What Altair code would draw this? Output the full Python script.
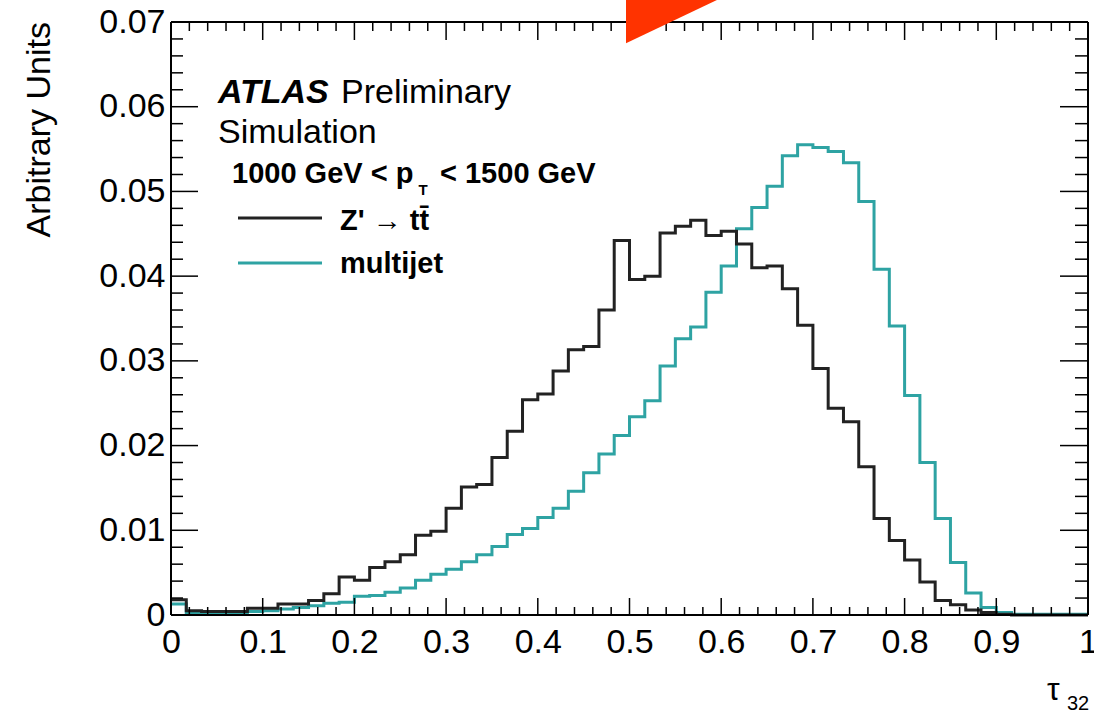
import altair as alt
import pandas as pd

N_BINS = 60

zprime = [0.0018, 0.0005, 0.0004, 0.0004, 0.0004, 0.0008, 0.0008, 0.0013, 0.0013, 0.0017,
          0.0025, 0.0045, 0.0041, 0.0056, 0.0063, 0.0071, 0.0094, 0.0099, 0.0126, 0.0151,
          0.0154, 0.0186, 0.0217, 0.0254, 0.0261, 0.0288, 0.0313, 0.0317, 0.0360, 0.0442,
          0.0396, 0.0400, 0.0451, 0.0459, 0.0466, 0.0448, 0.0453, 0.0438, 0.0410, 0.0412,
          0.0385, 0.0342, 0.0291, 0.0244, 0.0228, 0.0175, 0.0114, 0.0088, 0.0065, 0.0039,
          0.0017, 0.0012, 0.0006, 0.0003, 0.0001, 0.0, 0.0, 0.0, 0.0, 0.0]

multijet = [0.0013, 0.0003, 0.0002, 0.0002, 0.0002, 0.0004, 0.0005, 0.0007, 0.0009, 0.0011,
            0.0014, 0.0015, 0.0022, 0.0023, 0.0027, 0.0032, 0.0041, 0.0048, 0.0054, 0.0063,
            0.0071, 0.0081, 0.0095, 0.0102, 0.0115, 0.0126, 0.0146, 0.0168, 0.0190, 0.0212,
            0.0234, 0.0253, 0.0294, 0.0326, 0.0340, 0.0381, 0.0412, 0.0456, 0.0481, 0.0506,
            0.0542, 0.0555, 0.0552, 0.0547, 0.0534, 0.0488, 0.0408, 0.0341, 0.0259, 0.0180,
            0.0114, 0.0062, 0.0026, 0.0009, 0.0003, 0.0001, 0.0001, 0.0001, 0.0001, 0.0001]

x_major = [0, 0.1, 0.2, 0.3, 0.4, 0.5, 0.6, 0.7, 0.8, 0.9, 1.0]
x_minor = [0.02, 0.04, 0.06, 0.08, 0.12, 0.14, 0.16, 0.18, 0.22, 0.24, 0.26, 0.28,
           0.32, 0.34, 0.36, 0.38, 0.42, 0.44, 0.46, 0.48, 0.52, 0.54, 0.56, 0.58,
           0.62, 0.64, 0.66, 0.68, 0.72, 0.74, 0.76, 0.78, 0.82, 0.84, 0.86, 0.88,
           0.92, 0.94, 0.96, 0.98]
y_major = [0, 0.01, 0.02, 0.03, 0.04, 0.05, 0.06, 0.07]
y_minor = [0.002, 0.004, 0.006, 0.008, 0.012, 0.014, 0.016, 0.018, 0.022, 0.024, 0.026, 0.028,
           0.032, 0.034, 0.036, 0.038, 0.042, 0.044, 0.046, 0.048, 0.052, 0.054, 0.056, 0.058,
           0.062, 0.064, 0.066, 0.068]

# red arrow tip overlay (data coords)
arrow_x = [0.4962, 0.5954]
arrow_lo = [0.0675, 0.0726]
arrow_hi = [0.0726, 0.0726]

W, H = 917, 593
FONT = "Liberation Sans"
BLACK = "#222222"
TEAL = "#2ea3a3"

edges = [i / N_BINS for i in range(N_BINS + 1)]

xs = alt.Scale(domain=[0, 1], nice=False, zero=False)
ys = alt.Scale(domain=[0, 0.07], nice=False, zero=False)

def step_df(vals):
    return pd.DataFrame({"x": edges, "y": vals + [vals[-1]]})

base_axis = dict(grid=False, ticks=False, tickSize=0, domain=False, format="~g",
                 labelFont=FONT, labelFontSize=34, labelColor="black", title=None,
                 labelFlush=False, labelOverlap=False)

hist_z = alt.Chart(step_df(zprime)).mark_line(
    interpolate="step-after", color=BLACK, strokeWidth=3
).encode(
    x=alt.X("x:Q", scale=xs, axis=alt.Axis(values=x_major, labelPadding=10, **base_axis)),
    y=alt.Y("y:Q", scale=ys, axis=alt.Axis(values=y_major, labelPadding=6, **base_axis)),
)
hist_m = alt.Chart(step_df(multijet)).mark_line(
    interpolate="step-after", color=TEAL, strokeWidth=3
).encode(x=alt.X("x:Q", scale=xs), y=alt.Y("y:Q", scale=ys))

def vticks(vals, y0, y1, w=1.5):
    return alt.Chart(pd.DataFrame({"v": vals})).mark_rule(color="black", strokeWidth=w).encode(
        x=alt.X("v:Q", scale=xs), y=alt.value(y0), y2=alt.value(y1))

def hticks(vals, x0, x1, w=1.5):
    return alt.Chart(pd.DataFrame({"v": vals})).mark_rule(color="black", strokeWidth=w).encode(
        y=alt.Y("v:Q", scale=ys), x=alt.value(x0), x2=alt.value(x1))

ticks = [
    vticks(x_major, H, H - 17), vticks(x_minor, H, H - 8),
    vticks(x_major, 0, 18), vticks(x_minor, 0, 9),
    hticks(y_major, 0, 27), hticks(y_minor, 0, 12),
    hticks(y_major, W, W - 28), hticks(y_minor, W, W - 13),
]

one = pd.DataFrame({"a": [0]})

def frame_h(y):
    return alt.Chart(one).mark_rule(color="black", strokeWidth=2).encode(
        x=alt.value(0), x2=alt.value(W), y=alt.value(y))

def frame_v(x):
    return alt.Chart(one).mark_rule(color="black", strokeWidth=2).encode(
        y=alt.value(0), y2=alt.value(H), x=alt.value(x))

frame = [frame_h(0), frame_h(H), frame_v(0), frame_v(W)]

def txt(s, x, y, size, weight="normal", style="normal", align="left", angle=0, baseline="alphabetic"):
    kw = dict(font=FONT, fontSize=size, fontWeight=weight, fontStyle=style, align=align,
              baseline=baseline, color="black", text=s)
    if angle:
        kw["angle"] = angle
    return alt.Chart(one).mark_text(**kw).encode(x=alt.value(x), y=alt.value(y))

texts = [
    txt("ATLAS", 47, 81, 34, weight="bold", style="italic"),
    txt("Preliminary", 170, 81, 34),
    txt("Simulation", 47, 121, 34),
    txt("1000 GeV < p", 61, 161, 29, weight="bold"),
    txt("T", 252, 173, 15, weight="bold", align="center"),
    txt("< 1500 GeV", 269, 161, 29, weight="bold"),
    txt("Z' \u2192 tt\u0304", 169, 208, 29, weight="bold"),
    txt("multijet", 169, 251, 29, weight="bold"),
    txt("Arbitrary Units", -131, 0, 34, align="right", angle=270, baseline="middle"),
    txt("\u03c4", 876, 678, 32),
    txt("32", 896, 688, 20),
]

def leg_line(y, color):
    return alt.Chart(one).mark_rule(color=color, strokeWidth=3).encode(
        x=alt.value(67), x2=alt.value(151), y=alt.value(y))

legend = [leg_line(196, BLACK), leg_line(241, TEAL)]

arrow = alt.Chart(pd.DataFrame({"x": arrow_x, "lo": arrow_lo, "hi": arrow_hi})).mark_area(
    color="#ff3300", opacity=1
).encode(x=alt.X("x:Q", scale=xs), y=alt.Y("lo:Q", scale=ys), y2="hi:Q")

chart = alt.layer(
    hist_m, hist_z, *ticks, *frame, *legend, *texts, arrow
).properties(
    width=W, height=H,
    padding={"left": 171, "top": 22, "right": 6, "bottom": 96},
    autosize=alt.AutoSizeParams(type="none"),
    background="white",
).configure_view(stroke=None)

chart.save("out.html", embed_options={"renderer": "svg", "actions": False})
